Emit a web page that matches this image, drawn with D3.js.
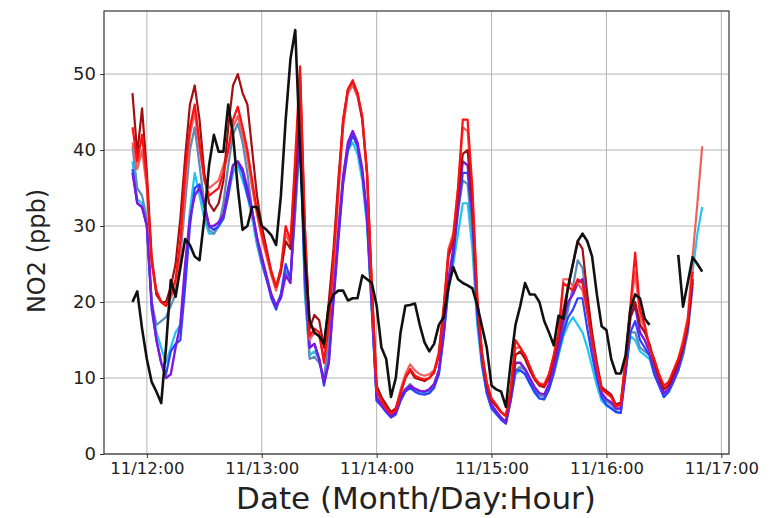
<!DOCTYPE html>
<html>
<head>
<meta charset="utf-8">
<script src="https://cdn.jsdelivr.net/npm/d3@7"></script>
<style>
  body { margin: 0; background: #fff; }
  svg text { font-family: "DejaVu Sans", sans-serif; fill: #222; }
</style>
</head>
<body>
<svg id="chart" width="775" height="518"></svg>
<script>
// Hourly NO2 (ppb), starting 11/11 21:00
const startTime = new Date(2018, 10, 11, 21, 0);

const observed = [
  20.0, 21.4, 16.5, 12.5, 9.5, 8.2, 6.7, 14, 22.9,
  20.7, 24.5, 28.3, 27.5, 26, 25.5, 31, 38, 42, 39.8, 39.8, 46, 42, 35, 29.5, 30, 32.5, 32.5, 30, 29.5, 28.8, 27.5,
  34, 44, 52, 55.8, 40, 26, 17.5, 16, 15.5, 14.5, 19.5, 21, 21.5, 21.5, 20.2, 20.5, 20.5, 23.5, 23, 22.5,
  19.5, 14, 12.5, 7.5, 10, 16, 19.5, 19.6, 19.8, 17, 14.7, 13.5, 14.5, 17, 18, 22, 24.6, 23, 22.5, 22.2, 21.8, 19.6, 16.8, 14,
  9, 8.5, 8.2, 6.2, 12, 17, 19.5, 22.5, 21, 21, 20, 17.5, 16, 14.3, 18.2, 17.8, 22, 25, 28, 29, 28, 26, 21, 16.8, 16.3,
  12.5, 10.6, 10.6, 13, 19, 21, 20.5, 17.8, 17, null, null, null, null, null, 26.2, 19.4, 22.6, 25.9, 25, 24
];

const modelDarkRed = [
  47.5, 39.5, 45.5, 37, 26, 21, 20, 20, 22,
  25, 31, 39, 46, 48.5, 44, 37, 33, 32, 33, 36, 43, 48.5, 50, 47.5, 46, 40, 34, 30, 27, 24, 22,
  24, 28, 27, 36, 50, 30, 16.5, 18.3, 17.6, 14, 20, 27, 36, 44, 48, 49, 47.5, 44, 37, 22,
  9, 7.5, 6.5, 5.5, 6, 8, 10, 11, 10, 9.8, 9.6, 10, 10.8, 13, 19, 26, 28, 34, 39.5, 40, 33, 20, 13, 9,
  7, 6.3, 5.5, 5, 8, 13, 13.5, 12.5, 11, 9.8, 9, 8.8, 10, 12.5, 15.5, 19, 22, 25, 28, 27, 21, 16, 12, 8.8, 8.3,
  7.8, 6.5, 6.8, 12, 18, 20, 17, 16, 14.5, 12, 10, 8.5, 9, 10.5, 12, 14, 17, 23, null, null
];

const modelRed = [
  43, 38.5, 42, 36, 25.5, 21.5, 20, 19.5, 21,
  23, 28, 37, 43, 46, 41, 36, 34, 34.5, 35, 37, 40, 44, 45.7, 43, 40, 36, 32, 29, 26.5, 24, 22,
  24.5, 30, 28, 39, 51, 30, 15.5, 16.5, 16, 12, 17, 26, 35, 44, 48, 49.2, 47.5, 44.5, 37, 22,
  8.5, 7, 6, 5.3, 5.8, 8, 10, 11.2, 10.3, 10, 9.8, 10, 10.7, 13, 19, 26.5, 28.5, 35, 44, 44, 35, 21, 13.5, 9.5,
  7.3, 6.5, 5.5, 5, 8.5, 15, 14, 13, 11.5, 10, 9.2, 9, 10.5, 13, 16, 22.5, 22, 21.5, 23, 22.5, 19, 15, 11.5, 8.5, 8,
  7.5, 6.3, 6.5, 12.5, 19.5, 26.5, 19, 17, 14, 12.5, 10.5, 9, 9.5, 11, 12.5, 14.5, 17.5, 24, null, null
];

const modelSalmon = [
  41, 37.5, 40, 35, 25, 21, 20, 19.5, 20.5,
  22, 27, 35, 42, 45, 40, 36.5, 35, 35.5, 36, 38, 40, 43, 44.5, 42, 39, 35, 31.5, 28.5, 26, 23.5, 21.5,
  24, 29, 27.5, 38, 49, 28, 15, 16, 15.5, 12.5, 17, 25, 34, 43, 47.5, 48.5, 47, 44, 36.5, 21.5,
  8.5, 7, 6, 5.5, 6, 8.5, 10.5, 11.8, 11, 10.5, 10.3, 10.5, 11, 13.5, 19.5, 27, 29, 35, 43, 42.5, 34, 20.5, 13, 9.2,
  7, 6.3, 5.5, 5, 8.5, 14, 14, 13, 11.5, 10, 9.3, 9.2, 10.5, 13, 16, 23, 23, 22, 22.5, 21.5, 18.5, 15, 11.5, 8.5, 8,
  7.5, 6.3, 6.5, 12.5, 19, 24, 18, 16.5, 14, 12, 10, 8.8, 9.3, 11, 12.5, 15, 18, 26, 33, 40.5
];

const modelSteel = [
  40.5, 35, 34, 31, 20, 17, 17.5, 18, 19.5,
  21, 26, 33, 40, 43, 38, 33, 29.5, 29, 30, 33, 38, 42, 43.5, 41, 37, 32, 28, 25, 23, 21, 19.5,
  21, 24, 23, 32, 42, 22, 12.5, 12.8, 12, 10, 15, 23, 30, 36.5, 40.5, 42, 40.5, 37, 30.5, 19,
  7.5, 6.5, 6, 5.3, 5.8, 7.5, 8.5, 9.2, 8.5, 8.3, 8.2, 8.5, 9.2, 11, 16, 22, 26, 32, 36, 35.5, 29, 18, 12, 8.5,
  6.5, 5.5, 4.8, 4.3, 7, 11, 11.5, 11, 9.5, 8.5, 7.7, 7.5, 8.8, 11, 13.5, 16.5, 19, 22, 25.5, 24.5, 19.5, 15, 11, 8, 7,
  6.5, 5.8, 6, 11, 16, 16, 14, 13.5, 13, 10.5, 9, 7.8, 8.5, 9.8, 11, 13, 16, 22, null, null
];

const modelCyan = [
  38.5, 33.5, 33, 30, 20, 16, 14, 12, 14,
  16, 17, 24, 32, 37, 34, 31, 29, 29, 30, 31, 34, 37, 38, 36, 34, 31, 27.5, 25, 23, 21, 19.5,
  21, 24, 23, 32, 42, 21, 13, 13.5, 12.5, 9.5, 13, 21, 29, 36, 40, 41, 39.5, 36, 30, 18.5,
  7, 6.5, 5.8, 5, 5.5, 7, 8.3, 9, 8.5, 8.2, 8, 8.3, 9, 10.5, 15.5, 21.5, 25, 29, 33, 33, 27, 17, 11.5, 8,
  6, 5.2, 4.6, 4, 7, 10.5, 11, 10.5, 9.2, 8, 7.3, 7.2, 8.5, 10.5, 13, 15.5, 17, 18, 17, 16, 14, 11.5, 9, 7, 6.3,
  6, 5.5, 5.5, 11, 15.5, 15, 13.5, 13, 12.5, 10.5, 9, 7.5, 8.2, 9.5, 11, 13, 16.5, 24, 29, 32.5
];

const modelBlue = [
  37.5, 33, 32.5, 30, 19, 15, 12, 10.5, 13.5,
  14.5, 15, 22, 30, 35, 35.5, 32.5, 30, 29.5, 30, 31, 34, 38, 38.5, 37, 34, 32, 28.5, 25.5, 23, 20.5, 19,
  21, 25, 23, 33, 43, 23, 14, 14.5, 12.5, 9, 12, 20, 28, 35.5, 40, 42, 40.5, 37, 31, 19,
  7, 6.3, 5.5, 4.8, 5.2, 7, 8.2, 8.7, 8.2, 7.9, 7.8, 8, 8.7, 10.5, 15.5, 22, 26, 32, 37, 37, 31, 18.5, 12, 8,
  6, 5.3, 4.5, 4, 7, 11, 11, 10.5, 9.3, 8.2, 7.3, 7.2, 8.5, 10.7, 13.5, 16, 18, 19, 20.5, 20.5, 16.5, 13, 10, 7.5, 6.5,
  6, 5.5, 5.4, 10.5, 16, 17.5, 15, 14, 13, 10.5, 9, 7.5, 8.2, 9.5, 11, 13.5, 16.5, 22.5, null, null
];

const modelPurple = [
  37, 33, 32.5, 30, 20, 15, 12, 10, 10.5,
  14, 17, 25, 31, 34, 35, 33, 30, 30, 30.5, 31.5, 35, 38, 38.5, 37.5, 35, 32, 28.5, 26, 23.5, 21, 19.5,
  20.5, 23.5, 22.5, 35, 43.5, 25, 14, 14.5, 12.5, 9.5, 12, 21, 29, 36.5, 41, 42.5, 41, 37.5, 31.5, 20,
  7.5, 6.5, 5.7, 5, 5.5, 7.5, 8.5, 9, 8.6, 8.3, 8.2, 8.5, 9.2, 11, 16, 23, 27, 33, 38.5, 38, 32, 19.5, 13, 8.7,
  6.5, 5.6, 4.8, 4.2, 7.5, 12, 12, 11.2, 10, 8.8, 8, 7.8, 9.2, 11.5, 14.5, 17.5, 20, 21, 22.5, 23, 19, 14.5, 11, 8, 7.2,
  6.8, 6, 6, 11.5, 18, 19.5, 16, 15, 13.5, 11.5, 9.5, 8, 8.6, 10, 11.5, 14, 17, 23, null, null
];

const yTicks = [0, 10, 20, 30, 40, 50];
const xTickDays = [12, 13, 14, 15, 16, 17];

// drawing order: first listed is drawn underneath
const seriesList = [
  { values: modelCyan,    color: "#22c4f0", width: 2.2 },
  { values: modelSteel,   color: "#5a8db8", width: 2.2 },
  { values: modelBlue,    color: "#2a40ff", width: 2.2 },
  { values: modelPurple,  color: "#7d18e0", width: 2.4 },
  { values: modelSalmon,  color: "#f0605e", width: 2.2 },
  { values: modelDarkRed, color: "#a30f12", width: 2.2 },
  { values: modelRed,     color: "#ff1010", width: 2.2 },
  { values: observed,     color: "#111111", width: 2.6 }
];

const svg = d3.select("#chart");
const plot = { left: 104, right: 729, top: 11, bottom: 454 };

const x = d3.scaleTime()
  .domain([new Date(2018, 10, 11, 15, 3), new Date(2018, 10, 17, 1, 36)])
  .range([plot.left, plot.right]);
const y = d3.scaleLinear()
  .domain([0, 58.3])
  .range([plot.bottom, plot.top]);

const dayTicks = xTickDays.map(d => new Date(2018, 10, d, 0, 0));

// grid
const grid = svg.append("g").attr("stroke", "#b4b4b4").attr("stroke-width", 1);
grid.selectAll("line.h").data(yTicks).join("line")
  .attr("x1", plot.left).attr("x2", plot.right)
  .attr("y1", d => y(d)).attr("y2", d => y(d));
grid.selectAll("line.v").data(dayTicks).join("line")
  .attr("y1", plot.top).attr("y2", plot.bottom)
  .attr("x1", d => x(d)).attr("x2", d => x(d));

// series lines
const line = d3.line()
  .defined(d => d.v != null)
  .x(d => x(d.t))
  .y(d => y(d.v));

svg.append("clipPath").attr("id", "plotclip")
  .append("rect").attr("x", plot.left).attr("y", plot.top)
  .attr("width", plot.right - plot.left).attr("height", plot.bottom - plot.top);

const lines = svg.append("g").attr("clip-path", "url(#plotclip)");
seriesList.forEach(s => {
  const pts = s.values.map((v, i) => ({ t: d3.timeHour.offset(startTime, i), v }));
  lines.append("path")
    .datum(pts)
    .attr("fill", "none")
    .attr("stroke", s.color)
    .attr("stroke-width", s.width)
    .attr("stroke-linejoin", "round")
    .attr("d", line);
});

// frame
svg.append("rect")
  .attr("x", plot.left).attr("y", plot.top)
  .attr("width", plot.right - plot.left).attr("height", plot.bottom - plot.top)
  .attr("fill", "none").attr("stroke", "#333").attr("stroke-width", 1.2);

// axes
const yAxis = svg.append("g")
  .attr("transform", `translate(${plot.left},0)`)
  .call(d3.axisLeft(y).tickValues(yTicks).tickSize(4).tickPadding(4));
yAxis.select(".domain").remove();
yAxis.selectAll("text").attr("font-size", 18).style("fill", "#222");
yAxis.selectAll("line").attr("stroke", "#333");

const xAxis = svg.append("g")
  .attr("transform", `translate(0,${plot.bottom})`)
  .call(d3.axisBottom(x).tickValues(dayTicks)
    .tickFormat(d3.timeFormat("%m/%d:%H")).tickSize(4).tickPadding(4));
xAxis.select(".domain").remove();
xAxis.selectAll("text").attr("font-size", 16.5).style("fill", "#222");
xAxis.selectAll("line").attr("stroke", "#333");

// axis titles
svg.append("text")
  .attr("transform", `translate(37,251) rotate(-90)`)
  .attr("text-anchor", "middle")
  .attr("dominant-baseline", "central")
  .attr("font-size", 24)
  .text("NO2 (ppb)");

svg.append("text")
  .attr("x", 416).attr("y", 509)
  .attr("text-anchor", "middle")
  .attr("font-size", 31)
  .text("Date (Month/Day:Hour)");
</script>
</body>
</html>
